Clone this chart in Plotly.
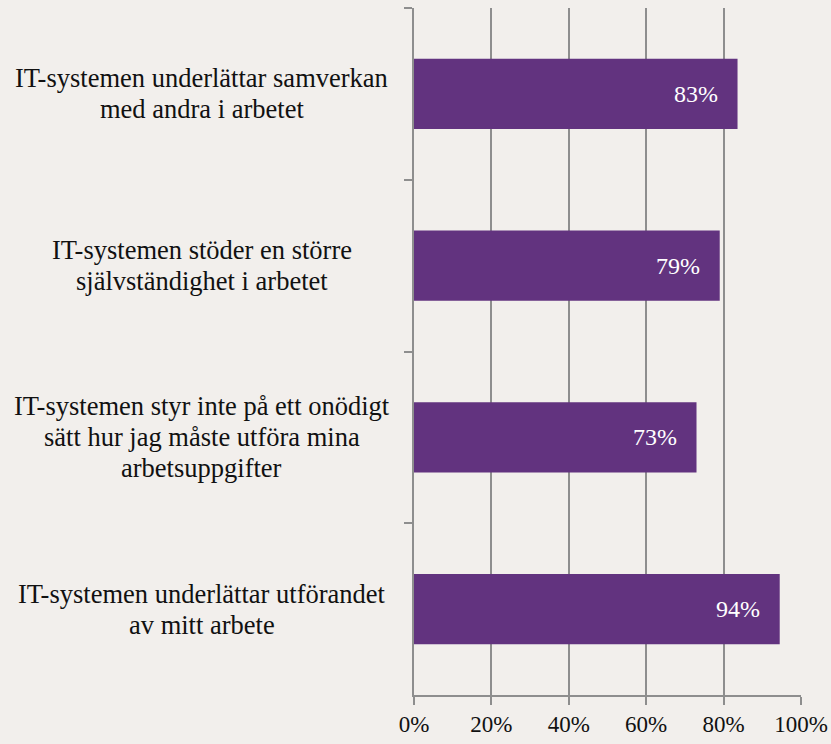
import plotly.graph_objects as go

category_lines = [
    ["IT-systemen underlättar samverkan", "med andra i arbetet"],
    ["IT-systemen stöder en större", "självständighet i arbetet"],
    ["IT-systemen styr inte på ett onödigt", "sätt hur jag måste utföra mina", "arbetsuppgifter"],
    ["IT-systemen underlättar utförandet", "av mitt arbete"],
]
categories = [" ".join(lines) for lines in category_lines]
values = [0.836, 0.79, 0.73, 0.945]
value_labels = ["83%", "79%", "73%", "94%"]
x_ticks = [0, 0.2, 0.4, 0.6, 0.8, 1.0]
x_tick_labels = ["0%", "20%", "40%", "60%", "80%", "100%"]

BG = "#F2EFEC"
PURPLE = "#62337F"
GRID = "#8E8E8E"
TEXT = "#111111"
FONT = "Liberation Serif, Times New Roman, serif"
LINE_STEP = 31

fig = go.Figure()
fig.add_trace(go.Bar(
    x=values, y=categories, orientation="h",
    marker=dict(color=PURPLE, line=dict(width=0)),
    hoverinfo="skip",
))

annotations = []
for cat, lines, v, lab in zip(categories, category_lines, values, value_labels):
    annotations.append(dict(
        x=v, y=cat, xref="x", yref="y", text=lab, showarrow=False,
        xanchor="right", yanchor="middle", xshift=-18,
        font=dict(family=FONT, size=24, color="white"),
    ))
    n = len(lines)
    for j, line in enumerate(lines):
        annotations.append(dict(
            x=-0.548, y=cat, xref="paper", yref="y", text=line, showarrow=False,
            xanchor="center", yanchor="middle", align="center",
            yshift=-(j - (n - 1) / 2) * LINE_STEP,
            font=dict(family=FONT, size=26.5, color=TEXT),
        ))

fig.update_layout(
    width=831, height=744,
    paper_bgcolor=BG, plot_bgcolor=BG,
    margin=dict(l=414, r=30, t=8, b=49, autoexpand=False),
    bargap=0.59,
    showlegend=False,
    annotations=annotations,
    font=dict(family=FONT, size=24, color=TEXT),
    xaxis=dict(
        range=[0, 1.0], tickvals=x_ticks, ticktext=x_tick_labels,
        showgrid=True, gridcolor=GRID, gridwidth=1.5,
        showline=True, linecolor=GRID, linewidth=1.5,
        ticks="outside", ticklen=8, tickcolor=GRID, tickwidth=1.5,
        ticklabelstandoff=0, automargin=False,
        tickfont=dict(family=FONT, size=23, color=TEXT),
        zeroline=False, fixedrange=True,
    ),
    yaxis=dict(
        autorange="reversed", showticklabels=False, automargin=False,
        showline=True, linecolor=GRID, linewidth=1.5,
        ticks="outside", ticklen=8, tickcolor=GRID, tickwidth=1.5,
        tickson="boundaries", showgrid=False, zeroline=False, fixedrange=True,
    ),
)

fig.write_html(
    "out.html",
    config={"displayModeBar": False},
    post_script="document.body.style.margin='0px';document.body.style.background='%s';" % BG,
)
